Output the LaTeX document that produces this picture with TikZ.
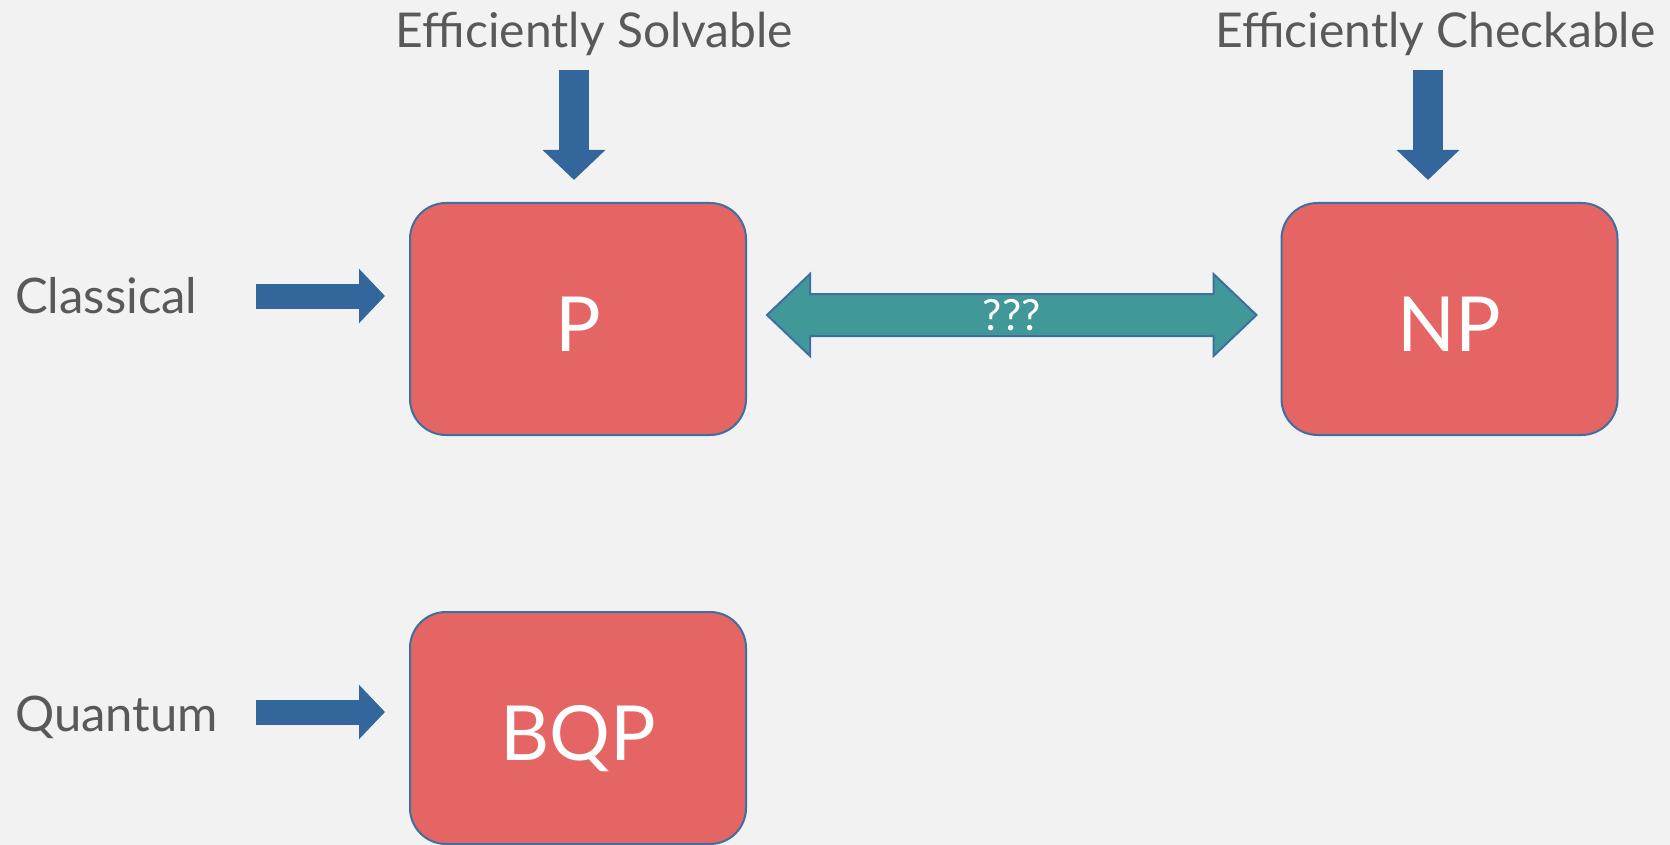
\documentclass[tikz,border=0pt]{standalone}
\usepackage{fontspec}
\setmainfont{Lato}
\usetikzlibrary{arrows.meta,calc}
\definecolor{bgrey}{HTML}{F2F2F2}
\definecolor{boxred}{HTML}{E56565}
\definecolor{boxline}{HTML}{3E6FA0}
\definecolor{arrblue}{HTML}{33669A}
\definecolor{qteal}{HTML}{419898}
\definecolor{lblgrey}{HTML}{595959}
\begin{document}
\begin{tikzpicture}[x=1pt,y=-1pt,main/.style = {draw=boxline, line width=2pt, fill=boxred, rounded corners=36pt, minimum width=336pt, minimum height=232pt, text=white, text height=64pt, text depth=0pt, font=\fontsize{76}{80}\selectfont},lbl/.style = {text=lblgrey, inner sep=0pt, font=\fontsize{48}{56}\selectfont},downarr/.style = {arrblue, line width=30pt, -{Triangle[length=30pt,width=61pt]}},rightarr/.style = {arrblue, line width=25pt, -{Triangle[length=26pt,width=53pt]}},qarrow/.style = {draw=boxline, line width=2pt, fill=qteal, line join=miter},node distance={871.5pt}]
\useasboundingbox[fill=bgrey] (0,0) rectangle (1670,845);
\node[main] (P) at (578,319) {P};
\node[main] (NP) [right of=P] {NP};
\node[main, node distance=409pt] (BQP) [below of=P] {BQP};
\node[lbl, anchor=base] (es) at (594.5,48) {Efficiently Solvable};
\node[lbl, anchor=base] (ec) at (1435.5,48) {Efficiently Checkable};
\node[lbl, anchor=base west, font=\fontsize{49}{56}\selectfont] (cl) at (15,313) {Classical};
\node[lbl, anchor=base west, font=\fontsize{49}{56}\selectfont] (qu) at (15,731) {Quantum};
\coordinate (s1) at (574,70);
\coordinate (s2) at (1428,70);
\coordinate (c1) at (256,296);
\coordinate (c2) at (256,712);
\draw[downarr] (s1) -- ($(s1 |- P.north)+(0,-22)$);
\draw[downarr] (s2) -- ($(s2 |- NP.north)+(0,-22)$);
\draw[rightarr] (c1) -- ($(c1 -| P.west)+(-24,0)$);
\draw[rightarr] (c2) -- ($(c2 -| BQP.west)+(-24,0)$);
\path ($(P.east)+(20,-4)$) coordinate (qa) ($(NP.west)+(-24,-4)$) coordinate (qb);
\draw[qarrow] (qa) -- ++(43,-41) -- ++(0,20) -- ($(qb)+(-43,-21)$) -- ++(0,-20) -- (qb) -- ++(-43,41) -- ++(0,-20) -- ($(qa)+(43,21)$) -- ++(0,20) -- cycle;
\node[text=white, font=\fontsize{43}{46}\selectfont] (q) at ($(qa)!0.5!(qb)$) {???};
\end{tikzpicture}
\end{document}
